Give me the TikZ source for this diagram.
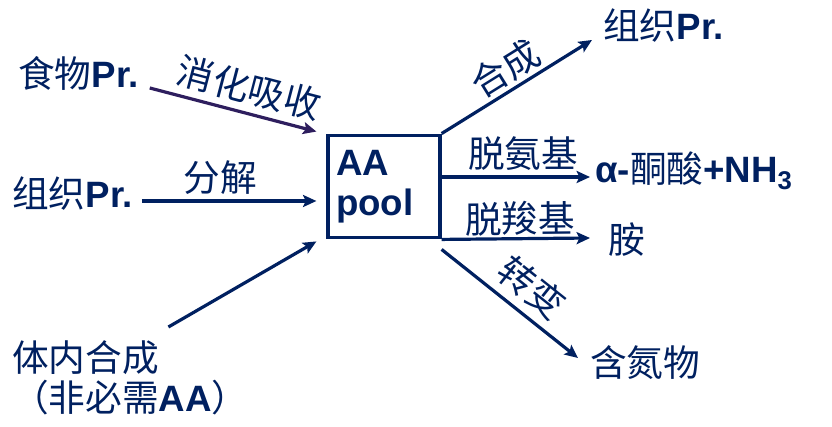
\documentclass[tikz,border=0pt]{standalone}
\usepackage{fontspec}
\setmainfont{Liberation Sans}
\newfontfamily\cjk{Noto Sans CJK SC}
\usetikzlibrary{arrows.meta}
\definecolor{navy}{RGB}{0,32,96}
\definecolor{inkpurple}{RGB}{46,30,94}
\newcommand{\zh}[1]{{\cjk #1}}
\tikzset{
  every node/.style={text=navy,font=\fontsize{27.5}{30}\selectfont,inner sep=0pt},
  flow/.style={draw=navy,line width=2.4pt,-{Stealth[length=10pt,width=9pt,inset=2pt]}},
  tag/.style={sloped,above=#1},
  tag/.default=4pt,
  poolbox/.style={draw=navy,line width=2.4pt,minimum width=84pt,minimum height=77pt,
    text width=72pt,align=left,font=\fontsize{27.5}{30}\selectfont\bfseries}
}
\begin{document}
\begin{tikzpicture}[x=0.75pt,y=-0.75pt]
\useasboundingbox (0,0) rectangle (832,427);
% sources
\node[anchor=base west] (food) at (18,88) {\zh{食物}\textbf{Pr.}};
\node[anchor=base west] (tisL) at (12,208) {\zh{组织}\textbf{Pr.}};
\node[anchor=north west,align=left] (synth) at (12,340) {\zh{体内合成}\\\zh{（非必需}\textbf{AA}\zh{）}};
% pool
\node[poolbox] (pool) at (384,186.5) {AA\\pool};
% products
\node[anchor=base west] (tisR) at (603,40) {\zh{组织}\textbf{Pr.}};
\node[anchor=base west] (keto) at (595,183) {\textbf{α-}\zh{酮酸}\textbf{+NH\textsubscript{3}}};
\node[anchor=base west] (amine) at (608,254) {\zh{胺}};
\node[anchor=base west] (nitro) at (590,377) {\zh{含氮物}};

\draw[flow,draw=inkpurple] ([shift={(11,0)}]food.base east) -- ([shift={(-10,-2)}]pool.north west)
  node[tag=5pt,pos=0.56] {\zh{消化吸收}};
\draw[flow] ([shift={(9,-7)}]tisL.base east) -- ([shift={(-10,14.5)}]pool.west)
  node[tag,pos=0.45] {\zh{分解}};
\draw[flow] ([shift={(38,-13)}]synth.north) -- ([shift={(-10,2)}]pool.south west);

\draw[flow] (pool.north east) -- ([shift={(-11,0)}]tisR.base west)
  node[tag=2pt,pos=0.5] {\zh{合成}};
\draw[flow] ([shift={(0,-9.5)}]pool.east) -- ([shift={(-5,-6)}]keto.base west)
  node[tag,pos=0.55] {\zh{脱氨基}};
\draw[flow] (pool.south east) -- ([shift={(-18,-16)}]amine.base west)
  node[tag=1pt,pos=0.53] {\zh{脱羧基}};
\draw[flow] ([shift={(0,10)}]pool.south east) -- ([shift={(-12,-19)}]nitro.base west)
  node[tag=6pt,pos=0.54] {\zh{转变}};
\end{tikzpicture}
\end{document}
